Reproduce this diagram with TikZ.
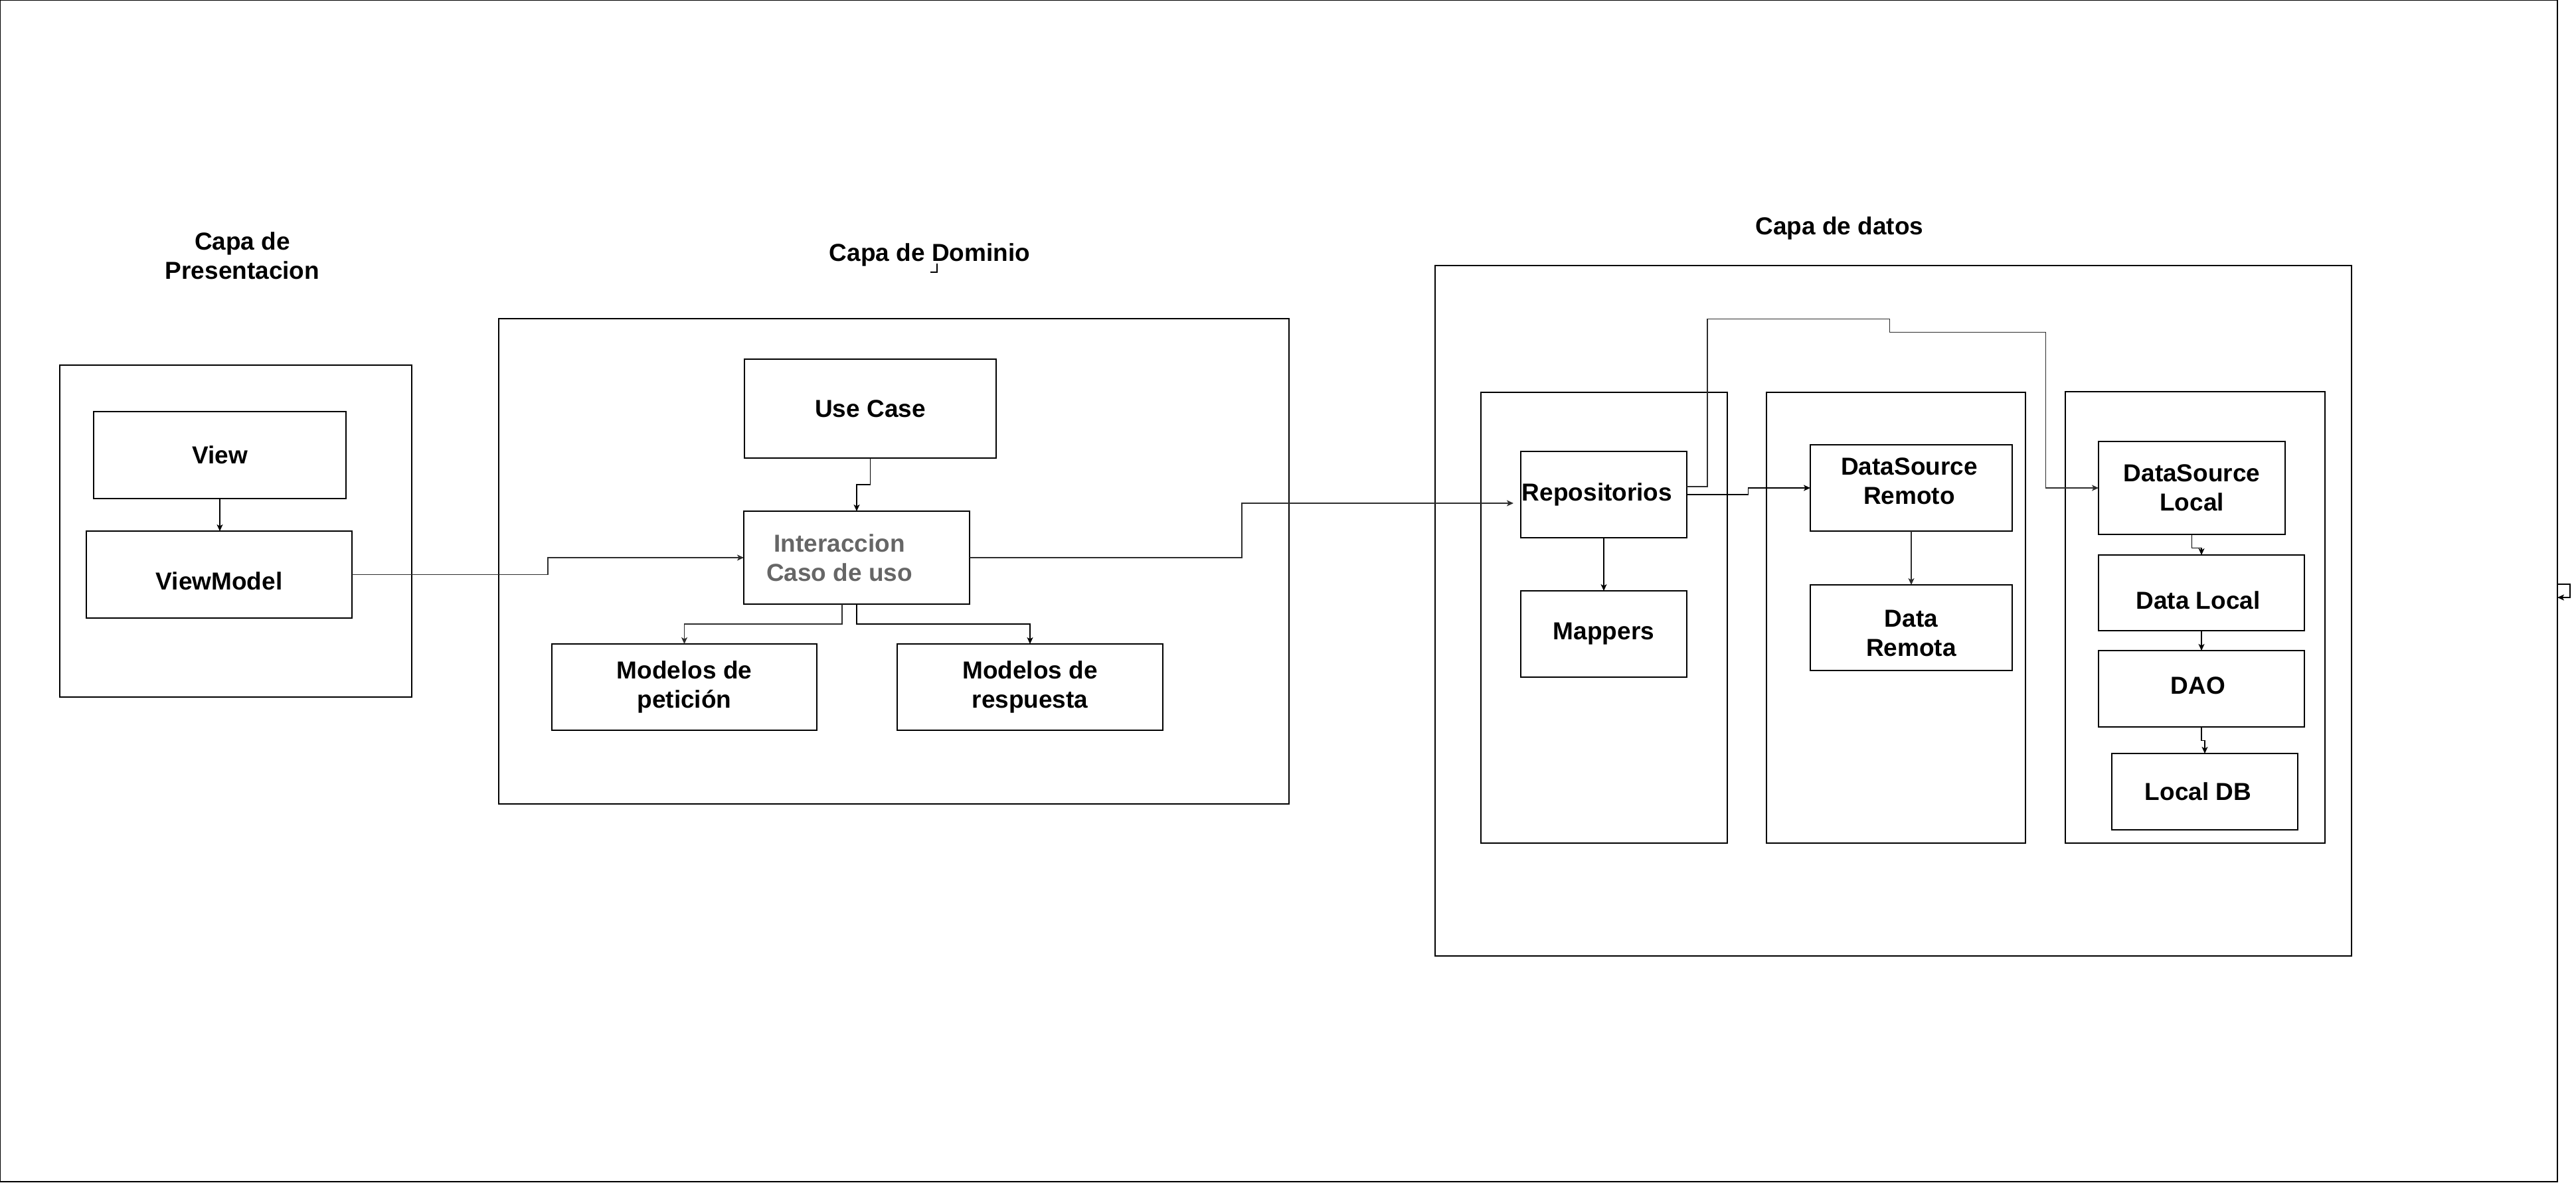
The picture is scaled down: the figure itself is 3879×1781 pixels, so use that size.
\documentclass[tikz,border=0pt]{standalone}
\usepackage{fontspec}
\setmainfont{Liberation Sans}
\usetikzlibrary{arrows.meta}
\definecolor{conngray}{RGB}{45,45,45}
\definecolor{txtgray}{RGB}{102,102,102}
\newcommand\boxfont{\fontsize{37}{44}\selectfont\bfseries}
\begin{document}
\begin{tikzpicture}[x=1pt,y=-1pt,
  box/.style={draw=black, line width=1.6pt, rectangle, inner sep=0pt, outer sep=0pt, align=center, font=\boxfont},
  framebox/.style={draw=black, line width=1.6pt, rectangle, inner sep=0pt, outer sep=0pt},
  lbl/.style={inner sep=0pt, align=center, font=\boxfont},
  conn/.style={draw=black, line width=1.4pt, -{Stealth[length=10pt,width=9pt,inset=2.5pt]}},
  conng/.style={conn, draw=conngray},
  plainline/.style={draw=black, line width=1.4pt},
]
\useasboundingbox (0,0) rectangle (3879,1781);
% outer border
\node[framebox, line width=2pt, minimum width=3851pt, minimum height=1780pt] (border) at (1925.5,890) {};

% titles
\node[lbl] (tpres) at (365,385) {Capa de\\Presentacion};
\node[lbl] (tdom) at (1400,384) {Capa de Dominio};
\node[lbl] (tdata) at (2770,344) {Capa de datos};
\coordinate (artA) at (1411,397);

% presentation layer
\node[framebox, minimum width=530pt, minimum height=500pt] (presframe) at (355,800) {};
\node[box, minimum width=380pt, minimum height=131pt] (view) at (331,685.5) {View};
\node[framebox, minimum width=400pt, minimum height=131pt] (vm) at (330,865.5) {};
\node[lbl] (vmtext) at (330,875) {ViewModel};

% domain layer
\node[framebox, minimum width=1190pt, minimum height=731pt] (domframe) at (1346,845.5) {};
\node[box, minimum width=379pt, minimum height=149pt] (usecase) at (1310.5,615.5) {Use Case};
\node[framebox, minimum width=340pt, minimum height=140pt] (inter) at (1290,840) {};
\node[lbl, text=txtgray] (intertext) at (1264,840) {Interaccion\\Caso de uso};
\node[box, minimum width=399pt, minimum height=130pt] (modpet) at (1030.5,1035) {Modelos de\\petición};
\node[box, minimum width=400pt, minimum height=130pt] (modres) at (1551,1035) {Modelos de\\respuesta};

% data layer
\node[framebox, minimum width=1380pt, minimum height=1040pt] (dataframe) at (2851,920) {};
\node[framebox, minimum width=371pt, minimum height=679pt] (repoframe) at (2415.5,930.5) {};
\node[framebox, minimum width=250pt, minimum height=130pt] (repo) at (2415,745) {};
\node[lbl] (repotext) at (2405,745) {Repositorios};
\node[box, minimum width=250pt, minimum height=130pt] (mappers) at (2415,955) {Mappers};
\node[framebox, minimum width=390pt, minimum height=679pt] (remframe) at (2855,930.5) {};
\node[framebox, minimum width=304pt, minimum height=130pt] (dsrem) at (2878,735) {};
\node[lbl] (dsremtext) at (2875,725) {DataSource\\Remoto};
\node[framebox, minimum width=304pt, minimum height=129pt] (datarem) at (2878,945.5) {};
\node[lbl] (dataremtext) at (2878,954) {Data\\Remota};
\node[framebox, minimum width=391pt, minimum height=680pt] (locframe) at (3305.5,930) {};
\node[box, minimum width=281pt, minimum height=140pt] (dsloc) at (3300.5,735) {DataSource\\Local};
\node[framebox, minimum width=310pt, minimum height=114pt] (dataloc) at (3315,893) {};
\node[lbl] (dataloctext) at (3310,904) {Data Local};
\node[framebox, minimum width=310pt, minimum height=115pt] (dao) at (3315,1037.5) {};
\node[lbl] (daotext) at (3310,1033) {DAO};
\node[framebox, minimum width=280pt, minimum height=115pt] (localdb) at (3320,1192.5) {};
\node[lbl] (localdbtext) at (3310,1192) {Local DB};

\coordinate (repoin) at (2279,758);

% connectors
\draw[conn] (view.south) -- (view.south |- vm.north);
\draw[conng] (vm.east) -- ++(295,0) |- (inter.west);
\draw[conn] (usecase.south) -- ++(0,40) -| (inter.north);
\draw[conng] (inter.east) -- ++(410,0) |- (repoin);
\draw[conng] ([xshift=-22pt]inter.south) -- ++(0,30) -| (modpet.north);
\draw[conn] (inter.south) -- ++(0,30) -| (modres.north);
\draw[conn] (repo.south) -- (mappers.north);
\draw[conn] (repo.east) -- ++(92.7,0) |- (dsrem.west);
\draw[conng] ([yshift=12pt]repo.east) -- ++(31,0) -- ++(0,-252.4) -- ++(274.5,0) -- ++(0,19.9) -- ++(235,0) |- (dsloc.west);
\draw[conng] (dsrem.south) -- (datarem.north);
\draw[conn] (dsloc.south) -- ++(0,20.4) -| (dataloc.north);
\draw[conn] (dataloc.south) -- (dao.north);
\draw[conn] (dao.south) -- ++(0,20.6) -| (localdb.north);
\draw[conn] ([yshift=10pt]border.east) -- ++(19,0) |- ([yshift=-10pt]border.east);
\draw[plainline] (artA) -- ++(0,13) -- ++(-10,0);
\end{tikzpicture}
\end{document}
